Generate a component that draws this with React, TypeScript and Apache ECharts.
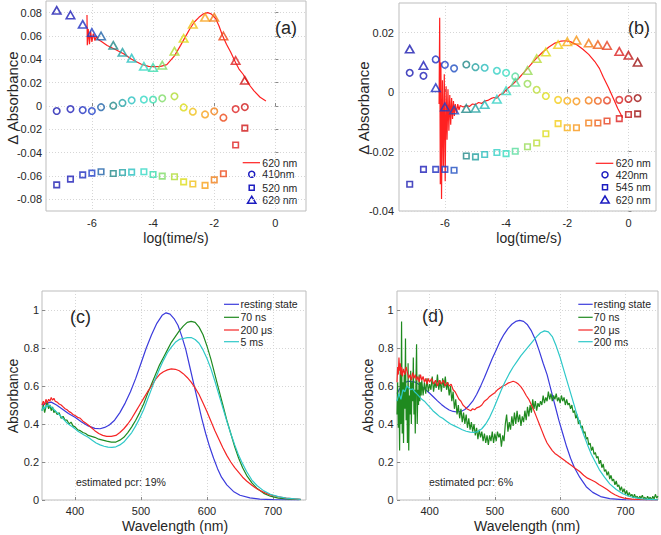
import React, { useEffect, useRef } from "react";
import * as echarts from "echarts";

const FONT = '"Liberation Sans", Arial, Helvetica, sans-serif';
const TXT = "#262626";

// ---------- panel (a) ----------
const timesA = [-7.15, -6.7, -6.3, -6, -5.7, -5.3, -5, -4.7, -4.3, -4, -3.7, -3.3, -3, -2.7, -2.3, -2, -1.7, -1.3, -1];
const a410 = [-0.0043, -0.0026, -0.0035, -0.0043, -0.001, 0.0003, 0.0026, 0.0049, 0.0055, 0.0055, 0.0066, 0.0083, -0.0012, -0.0049, -0.0072, -0.0046, -0.01, -0.0026, -0.0009];
const a520 = [-0.0676, -0.0627, -0.059, -0.0575, -0.0564, -0.0578, -0.057, -0.0567, -0.0564, -0.0587, -0.0601, -0.0607, -0.065, -0.0668, -0.068, -0.0633, -0.0581, -0.0334, -0.019];
const a620 = [0.082, 0.078, 0.07, 0.063, 0.06, 0.052, 0.046, 0.041, 0.034, 0.033, 0.035, 0.047, 0.058, 0.07, 0.076, 0.076, 0.06, 0.039, 0.022];
const fitA: [number, number][] = [
  [-6.16, 0.078], [-6.15, 0.052], [-6.12, 0.066], [-6.08, 0.053], [-6.04, 0.064], [-6.0, 0.055], [-5.95, 0.062],
  [-5.9, 0.056], [-5.85, 0.06], [-5.8, 0.057], [-5.7, 0.0555], [-5.5, 0.0518], [-5.2, 0.048], [-4.95, 0.0446],
  [-4.7, 0.04], [-4.4, 0.036], [-4.15, 0.034], [-3.95, 0.0337], [-3.75, 0.034], [-3.55, 0.0355], [-3.3, 0.043],
  [-3.1, 0.052], [-2.95, 0.059], [-2.8, 0.066], [-2.65, 0.072], [-2.5, 0.076], [-2.35, 0.079], [-2.22, 0.08],
  [-2.1, 0.079], [-1.95, 0.0748], [-1.85, 0.069], [-1.73, 0.0604], [-1.6, 0.053], [-1.46, 0.046], [-1.3, 0.037],
  [-1.19, 0.0317], [-1.05, 0.027], [-0.97, 0.023], [-0.85, 0.018], [-0.7, 0.013], [-0.5, 0.0075], [-0.31, 0.0043],
];
const colorsA = ["#1c1cb0", "#1e1eb8", "#1e2ec0", "#1e3ec8", "#1e62a8", "#228888", "#24a2a6", "#28c0c0", "#34d8c4", "#38dcac", "#80dc68", "#b0dc34", "#dcdc18", "#f0c018", "#f8a018", "#f07e18", "#ec4818", "#de2020", "#d01818"];

// ---------- panel (b) ----------
const timesB = [-7.15, -6.7, -6.3, -6, -5.7, -5.3, -5, -4.7, -4.3, -4, -3.7, -3.3, -3, -2.7, -2.3, -2, -1.7, -1.3, -1, -0.7, -0.3, 0, 0.3];
const b420 = [0.0065, 0.0055, 0.011, 0.0092, 0.008, 0.0093, 0.0084, 0.0082, 0.0072, 0.0065, 0.0053, 0.0028, 0.0008, -0.0013, -0.0026, -0.0029, -0.0031, -0.0028, -0.0029, -0.0028, -0.0026, -0.0023, -0.002];
const b545 = [-0.031, -0.026, -0.026, -0.026, -0.0263, -0.0215, -0.0218, -0.021, -0.0203, -0.0207, -0.0199, -0.0184, -0.0171, -0.014, -0.0106, -0.012, -0.012, -0.0104, -0.0104, -0.0097, -0.0089, -0.0075, -0.0073];
const b620 = [0.0145, 0.009, 0.0015, -0.005, -0.006, -0.0055, -0.0054, -0.0042, -0.0024, 0.0005, 0.0033, 0.0073, 0.0113, 0.0135, 0.016, 0.017, 0.0175, 0.0165, 0.016, 0.0157, 0.0137, 0.0124, 0.0101];
const fitB: [number, number][] = [
  [-6.19, -0.004], [-6.17, 0.025], [-6.15, -0.031], [-6.13, 0.01], [-6.11, -0.036], [-6.08, 0.004], [-6.05, -0.025],
  [-6.02, 0.006], [-5.99, -0.03], [-5.96, 0.002], [-5.93, -0.016], [-5.9, 0.001], [-5.87, -0.013], [-5.84, -0.001],
  [-5.81, -0.011], [-5.78, -0.002], [-5.75, -0.009], [-5.72, -0.003], [-5.69, -0.008], [-5.66, -0.004], [-5.62, -0.007],
  [-5.58, -0.004], [-5.54, -0.006], [-5.5, -0.0045], [-5.4, -0.005], [-5.3, -0.0045], [-5.2, -0.0048], [-5.1, -0.004],
  [-5.0, -0.0042], [-4.9, -0.0035], [-4.8, -0.0038], [-4.7, -0.003], [-4.6, -0.0028], [-4.5, -0.0022], [-4.4, -0.0018],
  [-4.3, -0.002], [-4.2, -0.0008], [-4.1, -0.0005], [-4.0, 0.0008], [-3.8, 0.0025], [-3.6, 0.0045], [-3.4, 0.0068],
  [-3.2, 0.0092], [-3.0, 0.0115], [-2.8, 0.0135], [-2.6, 0.0152], [-2.4, 0.0165], [-2.2, 0.0172], [-2.05, 0.0173],
  [-1.9, 0.017], [-1.7, 0.016], [-1.5, 0.0145], [-1.3, 0.0127], [-1.1, 0.0103], [-0.95, 0.008], [-0.82, 0.005],
  [-0.65, 0.0015], [-0.5, -0.002], [-0.35, -0.0055], [-0.19, -0.0086],
];
const colorsB = ["#1c1cb0", "#1e1eb8", "#1e2ec0", "#1e3ec8", "#1e4ec0", "#228888", "#24a0a0", "#28bcbc", "#32d0c4", "#38dcc0", "#58dc9c", "#98dc58", "#bcdc38", "#dcdc18", "#f4cc18", "#f8ae18", "#f89618", "#f47e18", "#ee5e18", "#e63e1e", "#dc2020", "#c01616", "#9c1010"];

// ---------- panel (c) ----------
const cResting: [number, number][] = [
  [350, 0.5], [357, 0.51], [364, 0.515], [372, 0.5], [380, 0.48], [390, 0.455], [400, 0.435], [410, 0.41], [420, 0.39],
  [430, 0.377], [438, 0.375], [445, 0.382], [452, 0.395], [460, 0.42], [468, 0.46], [476, 0.51], [484, 0.57], [492, 0.64],
  [500, 0.72], [508, 0.8], [516, 0.87], [524, 0.93], [532, 0.972], [538, 0.985], [544, 0.978], [550, 0.955], [556, 0.92],
  [562, 0.86], [568, 0.79], [574, 0.7], [580, 0.61], [586, 0.52], [592, 0.43], [598, 0.35], [604, 0.28], [610, 0.22],
  [616, 0.165], [622, 0.12], [630, 0.08], [640, 0.045], [650, 0.025], [665, 0.011], [680, 0.005], [700, 0.002], [740, 0.0],
];
const c70ns: [number, number][] = [
  [350, 0.47], [352, 0.5], [354, 0.46], [356, 0.49], [358, 0.52], [360, 0.48], [362, 0.5], [364, 0.47], [366, 0.49],
  [368, 0.46], [370, 0.47], [373, 0.45], [376, 0.46], [379, 0.43], [382, 0.44], [385, 0.42], [388, 0.42], [391, 0.4],
  [394, 0.41], [397, 0.39], [400, 0.385], [404, 0.37], [408, 0.365], [412, 0.355], [416, 0.35], [420, 0.34], [425, 0.335],
  [430, 0.33], [436, 0.32], [442, 0.315], [448, 0.31], [455, 0.305], [462, 0.305], [468, 0.315], [474, 0.33], [480, 0.355],
  [486, 0.385], [492, 0.42], [498, 0.46], [504, 0.505], [510, 0.56], [516, 0.61], [522, 0.66], [528, 0.71], [534, 0.75],
  [540, 0.79], [546, 0.83], [552, 0.86], [558, 0.89], [564, 0.915], [570, 0.935], [576, 0.94], [582, 0.935], [588, 0.91],
  [594, 0.87], [600, 0.81], [606, 0.74], [612, 0.66], [618, 0.58], [624, 0.5], [630, 0.42], [636, 0.35], [642, 0.28],
  [648, 0.22], [654, 0.17], [660, 0.13], [668, 0.09], [676, 0.06], [686, 0.035], [696, 0.02], [708, 0.01], [720, 0.006], [742, 0.002],
];
const c200us: [number, number][] = [
  [350, 0.5], [352, 0.52], [354, 0.5], [356, 0.53], [358, 0.51], [360, 0.53], [362, 0.52], [364, 0.54], [366, 0.525],
  [368, 0.535], [370, 0.52], [373, 0.515], [376, 0.505], [379, 0.5], [382, 0.49], [385, 0.48], [388, 0.475], [391, 0.465],
  [394, 0.46], [397, 0.45], [400, 0.445], [404, 0.435], [408, 0.43], [412, 0.415], [416, 0.405], [420, 0.395], [425, 0.38],
  [430, 0.365], [436, 0.35], [442, 0.34], [448, 0.335], [455, 0.335], [462, 0.34], [468, 0.355], [474, 0.375], [480, 0.4],
  [486, 0.43], [492, 0.465], [498, 0.5], [504, 0.535], [510, 0.57], [516, 0.6], [522, 0.635], [528, 0.66], [534, 0.675],
  [540, 0.685], [546, 0.69], [552, 0.688], [558, 0.68], [564, 0.665], [570, 0.645], [576, 0.62], [582, 0.59], [588, 0.555],
  [594, 0.51], [600, 0.465], [606, 0.415], [612, 0.365], [618, 0.32], [624, 0.275], [630, 0.235], [636, 0.2], [642, 0.17],
  [648, 0.145], [654, 0.12], [660, 0.1], [668, 0.078], [676, 0.058], [686, 0.04], [696, 0.027], [708, 0.017], [720, 0.01],
  [732, 0.006], [742, 0.003],
];
const c5ms: [number, number][] = [
  [350, 0.47], [352, 0.49], [354, 0.48], [356, 0.5], [358, 0.49], [360, 0.5], [362, 0.495], [364, 0.49], [367, 0.48],
  [370, 0.47], [373, 0.46], [376, 0.45], [380, 0.435], [384, 0.42], [388, 0.405], [392, 0.395], [396, 0.385], [400, 0.375],
  [405, 0.36], [410, 0.35], [415, 0.34], [420, 0.33], [426, 0.315], [432, 0.3], [438, 0.29], [444, 0.283], [450, 0.278],
  [456, 0.277], [462, 0.28], [468, 0.29], [474, 0.305], [480, 0.33], [486, 0.355], [492, 0.39], [498, 0.43], [504, 0.475],
  [510, 0.53], [516, 0.585], [522, 0.64], [528, 0.69], [534, 0.735], [540, 0.775], [546, 0.805], [552, 0.83], [558, 0.845],
  [564, 0.85], [570, 0.855], [576, 0.855], [582, 0.845], [588, 0.825], [594, 0.79], [600, 0.745], [606, 0.69], [612, 0.625],
  [618, 0.555], [624, 0.485], [630, 0.415], [636, 0.35], [642, 0.29], [648, 0.235], [654, 0.19], [660, 0.15], [668, 0.105],
  [676, 0.075], [686, 0.048], [696, 0.03], [708, 0.018], [720, 0.01], [742, 0.003],
];

// ---------- panel (d) ----------
const dResting: [number, number][] = [
  [350, 0.56], [354, 0.585], [358, 0.605], [362, 0.618], [366, 0.624], [370, 0.625], [376, 0.622], [382, 0.612], [388, 0.598],
  [394, 0.58], [400, 0.562], [406, 0.542], [412, 0.522], [418, 0.503], [424, 0.487], [430, 0.474], [436, 0.466], [442, 0.463],
  [448, 0.466], [454, 0.476], [460, 0.495], [466, 0.52], [472, 0.555], [478, 0.598], [484, 0.645], [490, 0.695], [496, 0.745],
  [502, 0.79], [508, 0.835], [514, 0.872], [520, 0.902], [526, 0.925], [532, 0.94], [538, 0.945], [544, 0.94], [550, 0.922],
  [556, 0.89], [562, 0.845], [568, 0.785], [574, 0.72], [580, 0.66], [586, 0.58], [592, 0.5], [598, 0.42], [604, 0.35],
  [610, 0.28], [616, 0.22], [622, 0.17], [630, 0.12], [640, 0.07], [650, 0.04], [662, 0.018], [676, 0.007], [700, 0.001], [750, 0],
];
const d70ns: [number, number][] = [
  [350, 0.45], [351, 0.62], [352, 0.38], [353, 0.55], [354, 0.26], [355, 0.7], [356, 0.4], [357, 0.94], [358, 0.35], [359, 0.62],
  [360, 0.3], [361, 0.66], [362, 0.48], [363, 0.85], [364, 0.42], [365, 0.6], [366, 0.3], [367, 0.72], [368, 0.26], [369, 0.55],
  [370, 0.45], [371, 0.68], [372, 0.4], [373, 0.62], [374, 0.52], [375, 0.75], [376, 0.45], [377, 0.58], [378, 0.35], [379, 0.62],
  [380, 0.82], [381, 0.4], [382, 0.58], [383, 0.5], [384, 0.66], [385, 0.52], [386, 0.62], [387, 0.55], [388, 0.63], [390, 0.55],
  [392, 0.62], [394, 0.56], [396, 0.64], [398, 0.57], [400, 0.61], [402, 0.58], [404, 0.65], [406, 0.57], [408, 0.62], [410, 0.59],
  [412, 0.66], [414, 0.58], [416, 0.63], [418, 0.57], [420, 0.64], [422, 0.59], [424, 0.65], [426, 0.58], [428, 0.62], [430, 0.55],
  [432, 0.6], [434, 0.52], [436, 0.57], [438, 0.48], [440, 0.53], [442, 0.45], [444, 0.5], [446, 0.43], [448, 0.48], [450, 0.41],
  [452, 0.46], [454, 0.4], [456, 0.45], [458, 0.38], [460, 0.43], [462, 0.37], [464, 0.41], [466, 0.36], [468, 0.4], [470, 0.34],
  [472, 0.38], [474, 0.32], [476, 0.37], [478, 0.33], [480, 0.36], [482, 0.31], [484, 0.35], [486, 0.3], [488, 0.34], [490, 0.29],
  [492, 0.34], [494, 0.31], [496, 0.36], [498, 0.3], [500, 0.35], [502, 0.31], [504, 0.36], [506, 0.33], [508, 0.35], [510, 0.28],
  [512, 0.34], [514, 0.31], [516, 0.4], [518, 0.45], [520, 0.36], [522, 0.41], [524, 0.37], [526, 0.44], [528, 0.39], [530, 0.46],
  [532, 0.4], [534, 0.47], [536, 0.41], [538, 0.45], [540, 0.39], [542, 0.44], [544, 0.41], [546, 0.47], [548, 0.42], [550, 0.49],
  [552, 0.44], [554, 0.5], [556, 0.46], [558, 0.53], [560, 0.48], [562, 0.52], [564, 0.47], [566, 0.51], [568, 0.49], [570, 0.52],
  [572, 0.5], [574, 0.55], [576, 0.51], [578, 0.54], [580, 0.52], [582, 0.57], [584, 0.53], [586, 0.56], [588, 0.52], [590, 0.55],
  [592, 0.53], [594, 0.56], [596, 0.52], [598, 0.54], [600, 0.51], [602, 0.55], [604, 0.52], [606, 0.54], [608, 0.5], [610, 0.53],
  [612, 0.5], [614, 0.51], [616, 0.48], [618, 0.5], [620, 0.46], [622, 0.47], [624, 0.43], [626, 0.45], [628, 0.4], [630, 0.42],
  [632, 0.38], [634, 0.39], [636, 0.35], [638, 0.36], [640, 0.32], [642, 0.33], [644, 0.29], [646, 0.3], [648, 0.26], [650, 0.28],
  [652, 0.24], [654, 0.25], [656, 0.22], [658, 0.23], [660, 0.19], [662, 0.21], [664, 0.17], [666, 0.19], [668, 0.15], [670, 0.16],
  [672, 0.13], [674, 0.15], [676, 0.11], [678, 0.13], [680, 0.1], [682, 0.11], [684, 0.08], [686, 0.1], [688, 0.07], [690, 0.08],
  [692, 0.05], [694, 0.07], [696, 0.04], [698, 0.06], [700, 0.03], [702, 0.05], [704, 0.02], [706, 0.04], [708, 0.02], [710, 0.03],
  [712, 0.01], [714, 0.03], [716, 0.01], [718, 0.02], [720, 0.005], [722, 0.02], [724, 0.01], [726, 0.025], [728, 0.005], [730, 0.015],
  [732, 0.0], [734, 0.02], [736, 0.005], [738, 0.015], [740, 0.0], [742, 0.02], [744, 0.005], [746, 0.03], [748, 0.01], [750, 0.02],
];
const d20us: [number, number][] = [
  [350, 0.62], [351, 0.7], [352, 0.66], [353, 0.75], [354, 0.68], [355, 0.72], [356, 0.66], [357, 0.7], [358, 0.65], [360, 0.69],
  [362, 0.66], [364, 0.7], [366, 0.67], [368, 0.64], [370, 0.66], [372, 0.63], [374, 0.67], [376, 0.64], [378, 0.66], [380, 0.63],
  [382, 0.65], [384, 0.62], [386, 0.66], [388, 0.63], [390, 0.65], [392, 0.62], [394, 0.64], [396, 0.61], [398, 0.64], [400, 0.62],
  [403, 0.64], [406, 0.61], [409, 0.63], [412, 0.6], [415, 0.63], [418, 0.61], [421, 0.63], [424, 0.6], [427, 0.62], [430, 0.6],
  [433, 0.61], [436, 0.58], [439, 0.57], [442, 0.55], [445, 0.53], [448, 0.52], [451, 0.5], [454, 0.49], [457, 0.48], [460, 0.475],
  [463, 0.47], [466, 0.48], [469, 0.475], [472, 0.485], [476, 0.49], [480, 0.5], [484, 0.52], [488, 0.53], [492, 0.545], [496, 0.555],
  [500, 0.565], [504, 0.58], [508, 0.59], [512, 0.6], [516, 0.605], [520, 0.615], [524, 0.62], [528, 0.625], [532, 0.62], [536, 0.61],
  [540, 0.595], [544, 0.575], [548, 0.55], [552, 0.53], [556, 0.5], [560, 0.47], [564, 0.435], [568, 0.4], [572, 0.365], [576, 0.33],
  [580, 0.3], [584, 0.28], [588, 0.26], [592, 0.245], [596, 0.235], [600, 0.225], [606, 0.21], [612, 0.195], [618, 0.18], [624, 0.165],
  [630, 0.15], [636, 0.13], [642, 0.115], [648, 0.105], [654, 0.095], [660, 0.08], [666, 0.068], [672, 0.055], [678, 0.04], [684, 0.028],
  [690, 0.018], [698, 0.01], [710, 0.005], [730, 0.002], [750, 0.001],
];
const d200ms: [number, number][] = [
  [350, 0.52], [353, 0.56], [356, 0.53], [359, 0.58], [362, 0.57], [365, 0.6], [368, 0.59], [371, 0.58], [374, 0.585], [377, 0.57],
  [380, 0.56], [384, 0.545], [388, 0.53], [392, 0.52], [396, 0.505], [400, 0.49], [405, 0.47], [410, 0.455], [415, 0.44], [420, 0.43],
  [426, 0.415], [432, 0.4], [438, 0.39], [444, 0.38], [450, 0.37], [456, 0.362], [462, 0.357], [468, 0.356], [474, 0.36], [480, 0.375],
  [486, 0.4], [492, 0.435], [498, 0.48], [504, 0.53], [510, 0.58], [516, 0.625], [522, 0.665], [528, 0.7], [534, 0.73], [540, 0.76],
  [546, 0.785], [552, 0.81], [558, 0.835], [564, 0.86], [570, 0.88], [576, 0.89], [582, 0.885], [588, 0.86], [594, 0.81], [600, 0.75],
  [606, 0.68], [612, 0.61], [618, 0.54], [624, 0.47], [630, 0.405], [636, 0.345], [642, 0.29], [648, 0.24], [654, 0.2], [660, 0.16],
  [668, 0.12], [676, 0.085], [686, 0.055], [696, 0.033], [708, 0.017], [725, 0.006], [750, 0.001],
];

// ---------- tick values ----------
const ticksLogX = [-6, -4, -2, 0];
const ticksAY = [-0.08, -0.06, -0.04, -0.02, 0, 0.02, 0.04, 0.06, 0.08];
const ticksBY = [-0.04, -0.02, 0, 0.02];
const ticksWaveX = [400, 500, 600, 700];
const ticksAbsY = [0, 0.2, 0.4, 0.6, 0.8, 1];

const BLUE = "#3b3bdc";
const GREEN = "#1f8a1f";
const RED = "#f52525";
const CYAN = "#2ec8c8";
const FITRED = "#ff2020";
const LEGBLUE = "#1c1cc0";

function axis(gridIndex: number, min: number, max: number, ticks: number[], margin: number, fmt: (v: number) => string) {
  return {
    type: "value",
    gridIndex,
    min,
    max,
    axisLine: { show: false },
    axisTick: { show: true, inside: true, length: 3, customValues: ticks, lineStyle: { color: "#8a8a8a" } },
    axisLabel: { customValues: ticks, margin, color: TXT, fontSize: 11, fontFamily: FONT, formatter: fmt },
    splitLine: { show: true, lineStyle: { color: "#d6d6d6", type: [1, 2], width: 1 } },
  };
}

const fmtInt = (v: number) => String(v);
const fmt2 = (v: number) => (Math.abs(v) < 1e-9 ? "0" : v.toFixed(2));
const fmtAbs = (v: number) => (Math.abs(v) < 1e-9 ? "0" : String(Math.round(v * 10) / 10));

function markers(idx: number, xs: number[], ys: number[], colors: string[], symbol: string, size: number | number[]) {
  return {
    type: "scatter",
    xAxisIndex: idx,
    yAxisIndex: idx,
    symbol,
    symbolSize: size,
    silent: true,
    z: 3,
    data: xs.map((x, i) => ({
      value: [x, ys[i]],
      itemStyle: { color: "rgba(0,0,0,0)", borderColor: colors[i], borderWidth: 1.6 },
    })),
  };
}

function line(idx: number, data: [number, number][], color: string, z = 2) {
  return {
    type: "line",
    xAxisIndex: idx,
    yAxisIndex: idx,
    data,
    showSymbol: false,
    symbol: "none",
    silent: true,
    z,
    lineStyle: { color, width: 1.2 },
  };
}

function txt(text: string, x: number, y: number, size: number, align = "left", rotation = 0) {
  return {
    type: "text",
    x,
    y,
    rotation,
    silent: true,
    style: { text, fill: TXT, fontSize: size, fontFamily: FONT, align, verticalAlign: "middle" },
  };
}

function tri(cx: number, cy: number, color: string) {
  return {
    type: "polygon",
    silent: true,
    shape: { points: [[cx, cy - 4], [cx - 4.2, cy + 3], [cx + 4.2, cy + 3]] },
    style: { fill: "none", stroke: color, lineWidth: 1.5 },
  };
}

function markerLegend(lx1: number, lx2: number, tx: number, mx: number, rows: number[], labels: string[]) {
  return [
    { type: "line", silent: true, shape: { x1: lx1, y1: rows[0], x2: lx2, y2: rows[0] }, style: { stroke: FITRED, lineWidth: 1.2 } },
    txt(labels[0], tx, rows[0], 10.5),
    { type: "circle", silent: true, shape: { cx: mx, cy: rows[1], r: 3 }, style: { fill: "none", stroke: LEGBLUE, lineWidth: 1.5 } },
    txt(labels[1], tx, rows[1], 10.5),
    { type: "rect", silent: true, shape: { x: mx - 2.5, y: rows[2] - 2.5, width: 5, height: 5 }, style: { fill: "none", stroke: LEGBLUE, lineWidth: 1.5 } },
    txt(labels[2], tx, rows[2], 10.5),
    tri(mx, rows[3], LEGBLUE),
    txt(labels[3], tx, rows[3], 10.5),
  ];
}

function lineLegend(lx1: number, lx2: number, tx: number, rows: number[], labels: string[], colors: string[]) {
  const out: any[] = [];
  labels.forEach((l, i) => {
    out.push({ type: "line", silent: true, shape: { x1: lx1, y1: rows[i], x2: lx2, y2: rows[i] }, style: { stroke: colors[i], lineWidth: 1.2 } });
    out.push(txt(l, tx, rows[i], 10.5));
  });
  return out;
}

const gridStyle = { show: true, borderColor: "#bdbdbd", borderWidth: 1, backgroundColor: "transparent", containLabel: false };

export default function App() {
  const ref = useRef<HTMLDivElement>(null);
  useEffect(() => {
    const chart = echarts.init(ref.current!, null, { renderer: "svg" });
    const specColors = [BLUE, GREEN, RED, CYAN];
    const option: any = {
      animation: false,
      backgroundColor: "#ffffff",
      textStyle: { fontFamily: FONT },
      grid: [
        { ...gridStyle, left: 46, top: 1, width: 260, height: 210 },
        { ...gridStyle, left: 399, top: 3, width: 257, height: 208 },
        { ...gridStyle, left: 42, top: 291, width: 264, height: 209 },
        { ...gridStyle, left: 397, top: 291, width: 261, height: 209 },
      ],
      xAxis: [
        axis(0, -7.5, 1, ticksLogX, 6, fmtInt),
        axis(1, -7.5, 0.9, ticksLogX, 6, fmtInt),
        axis(2, 350, 750, ticksWaveX, 5, fmtInt),
        axis(3, 350, 750, ticksWaveX, 5, fmtInt),
      ],
      yAxis: [
        axis(0, -0.09, 0.09, ticksAY, 4, fmt2),
        axis(1, -0.04, 0.03, ticksBY, 5, fmt2),
        axis(2, 0, 1.1, ticksAbsY, 3, fmtAbs),
        axis(3, 0, 1.1, ticksAbsY, 3.5, fmtAbs),
      ],
      series: [
        line(0, fitA, FITRED),
        markers(0, timesA, a410, colorsA, "circle", 6.5),
        markers(0, timesA, a520, colorsA, "rect", 5.5),
        markers(0, timesA, a620, colorsA, "triangle", [8.5, 7.5]),
        line(1, fitB, FITRED),
        markers(1, timesB, b420, colorsB, "circle", 6.5),
        markers(1, timesB, b545, colorsB, "rect", 5.5),
        markers(1, timesB, b620, colorsB, "triangle", [8.5, 7.5]),
        line(2, cResting, BLUE, 2),
        line(2, c70ns, GREEN, 3),
        line(2, c200us, RED, 4),
        line(2, c5ms, CYAN, 5),
        line(3, dResting, BLUE, 2),
        line(3, d70ns, GREEN, 3),
        line(3, d20us, RED, 4),
        line(3, d200ms, CYAN, 5),
      ],
      graphic: [
        txt("(a)", 275, 28, 18),
        txt("(b)", 628, 28, 18),
        txt("(c)", 70, 317, 18),
        txt("(d)", 422, 316, 18),
        txt("log(time/s)", 176, 238, 14, "center"),
        txt("log(time/s)", 529, 238, 14, "center"),
        txt("Δ Absorbance", 12, 98, 15, "center", Math.PI / 2),
        txt("Δ Absorbance", 363, 108, 15, "center", Math.PI / 2),
        txt("Wavelength (nm)", 175, 526, 14, "center"),
        txt("Wavelength (nm)", 527, 526, 14, "center"),
        txt("Absorbance", 13, 396, 14, "center", Math.PI / 2),
        txt("Absorbance", 368, 396, 14, "center", Math.PI / 2),
        txt("estimated pcr: 19%", 76, 482, 10.5),
        txt("estimated pcr: 6%", 429, 482, 10.5),
        ...markerLegend(242.7, 260, 262.3, 251.7, [162.7, 174.3, 187.7, 200.3], ["620 nm", "410nm", "520 nm", "620 nm"]),
        ...markerLegend(595.7, 613.3, 615.7, 605, [163.3, 174.7, 187.3, 200], ["620 nm", "420nm", "545 nm", "620 nm"]),
        ...lineLegend(224, 239, 240.5, [304.3, 317.3, 330, 341.7], ["resting state", "70 ns", "200 μs", "5 ms"], specColors),
        ...lineLegend(578.3, 592.7, 593.8, [304.3, 317.3, 330, 341.7], ["resting state", "70 ns", "20 μs", "200 ms"], specColors),
      ],
    };
    chart.setOption(option);
    return () => chart.dispose();
  }, []);
  return <div ref={ref} style={{ position: "absolute", left: 0, top: 0, width: 661, height: 535 }} />;
}
